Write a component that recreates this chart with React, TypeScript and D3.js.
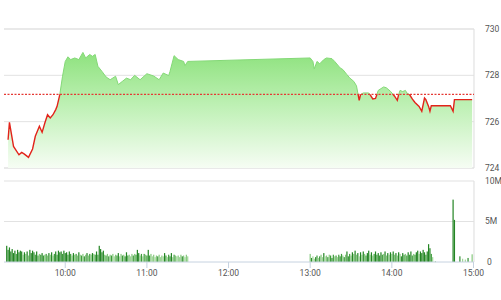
import React from "react";
import * as d3 from "d3";

const priceTimes = [
  "09:18","09:19","09:22","09:26","09:28","09:30","09:33","09:36","09:38","09:41",
  "09:43","09:45","09:47","09:49","09:51","09:53","09:54","09:56","09:58","10:00",
  "10:02","10:04","10:07","10:10","10:13","10:15","10:18","10:20","10:22","10:24",
  "10:27","10:30","10:33","10:37","10:39","10:42","10:45","10:48","10:51","10:55",
  "11:00","11:05","11:09","11:12","11:16","11:17","11:20","11:23","11:27","11:28",
  "11:30","13:00","13:02","13:03","13:05","13:07","13:10","13:12","13:16","13:18",
  "13:22","13:24","13:27","13:29","13:32","13:34","13:35","13:36","13:37","13:39",
  "13:43","13:44","13:46","13:48","13:49","13:50","13:54","13:56","13:59","14:01",
  "14:02","14:04","14:05","14:06","14:08","14:10","14:11","14:13","14:15","14:17",
  "14:20","14:22","14:24","14:25","14:27","14:28","14:29","14:43","14:45","14:46",
  "14:59"
];
const priceValues = [
  725.22,725.97,724.93,724.57,724.67,724.60,724.46,724.82,725.37,725.80,
  725.54,725.94,726.30,726.16,726.30,726.52,726.66,727.17,727.96,728.60,
  728.80,728.68,728.75,728.68,728.99,728.75,728.90,728.82,728.90,728.39,
  728.17,727.93,727.81,727.96,727.60,727.74,727.88,727.81,728.00,727.81,
  728.07,727.97,727.81,728.10,727.99,728.17,728.85,728.68,728.60,728.42,
  728.60,728.75,728.60,728.28,728.60,728.50,728.68,728.75,728.72,728.60,
  728.32,728.25,728.03,727.89,727.74,727.55,727.24,726.92,727.17,727.24,
  727.24,727.17,726.98,727.00,727.17,727.35,727.50,727.46,727.31,727.17,
  727.10,726.92,727.17,727.35,727.30,727.35,727.24,727.17,726.98,726.83,
  726.66,726.45,727.02,726.95,726.66,726.45,726.69,726.69,726.45,726.95,
  726.95
];
const referencePrice = 727.18;
const priceTicks = [724, 726, 728, 730];
const volumeTicks = [0, 5, 10];
const volumeTickLabels = ["0", "5M", "10M"];
const timeTickLabels = ["10:00", "11:00", "12:00", "13:00", "14:00", "15:00"];

const morningVolStart = "09:17";
const morningVolumes = [
  2.0,1.5,1.8,1.3,1.6,1.1,1.4,1.0,1.5,1.2,
  1.4,1.3,0.9,1.2,1.0,1.3,0.8,1.5,1.1,1.4,
  1.2,0.9,1.3,0.8,1.0,0.9,1.1,0.8,0.9,1.0,
  0.8,1.1,0.9,1.2,0.8,1.0,1.3,0.9,1.4,1.2,
  1.3,1.0,1.4,1.1,1.2,0.9,1.3,1.0,0.8,1.1,
  0.9,1.0,0.8,1.2,0.9,0.8,1.0,0.7,0.9,1.1,
  0.8,1.0,0.9,1.1,1.0,0.9,1.3,0.9,2.0,1.6,
  1.2,1.4,0.9,0.8,1.0,0.7,0.9,0.8,1.0,0.7,
  0.9,0.8,1.1,0.7,1.0,0.8,0.9,0.7,1.2,0.8,
  0.9,0.7,1.0,0.8,1.0,0.9,1.5,1.1,0.8,1.0,
  0.7,1.0,0.9,0.8,1.5,0.8,1.0,0.7,0.9,0.6,
  0.8,0.7,0.9,0.6,0.8,0.7,1.1,0.8,0.6,0.9,
  0.7,1.1,0.6,0.9,0.8,0.7,0.8,0.6,0.9,0.7,
  0.8,0.6,0.9,0.7
];
const afternoonVolStart = "13:00";
const afternoonVolumes = [
  1.0,0.5,0.7,0.4,0.6,0.8,0.5,0.7,0.9,0.6,
  1.1,0.7,0.8,0.6,0.9,0.8,0.5,0.9,0.7,0.8,
  0.6,0.9,0.7,1.0,0.8,0.6,0.9,1.3,0.7,1.0,
  0.8,1.2,1.0,1.4,0.9,1.1,0.7,1.2,0.9,1.3,
  1.0,0.8,1.1,1.4,0.9,1.2,0.8,1.0,1.3,0.9,
  1.1,0.8,1.2,0.9,1.0,1.3,0.8,1.1,0.9,1.2,
  1.0,1.3,0.9,1.1,0.8,1.2,1.0,0.7,1.1,0.9,
  1.0,0.8,1.2,0.9,1.3,0.8,1.0,0.9,1.2,1.4,
  1.0,1.3,1.1,1.5,1.2,0.9,1.3,2.2,1.7,1.0,
  0.6
];
const closingVolTimes = ["14:32","14:45","14:46","14:50","14:52","14:54","14:56","14:59"];
const closingVolumes = [0.05, 7.7, 5.2, 0.7, 0.4, 0.3, 0.5, 0.95];

const parse = d3.timeParse("%H:%M");

export default function App() {
  const W = 501, H = 300;
  const xLeft = 4, xRight = 474;
  const x = d3.scaleTime()
    .domain([parse("09:15") as Date, parse("15:00") as Date])
    .range([xLeft, 473.5]);
  const y = d3.scaleLinear().domain([724, 730]).range([168, 29]);
  const yv = d3.scaleLinear().domain([0, 10]).range([262, 181]);

  const pts = priceTimes.map((t, i) => ({ t: parse(t) as Date, v: priceValues[i] }));
  const line = d3.line<{ t: Date; v: number }>().x(d => x(d.t)).y(d => y(d.v));
  const area = d3.area<{ t: Date; v: number }>().x(d => x(d.t)).y0(y(724)).y1(d => y(d.v));
  const refY = y(referencePrice);

  const bars: { t: Date; v: number }[] = [];
  const m0 = parse(morningVolStart) as Date;
  morningVolumes.forEach((v, i) => bars.push({ t: d3.timeMinute.offset(m0, i), v }));
  const a0 = parse(afternoonVolStart) as Date;
  afternoonVolumes.forEach((v, i) => bars.push({ t: d3.timeMinute.offset(a0, i), v }));
  closingVolTimes.forEach((t, i) => bars.push({ t: parse(t) as Date, v: closingVolumes[i] }));

  const barColor = (v: number, i: number) =>
    v >= 1.1 ? "#238523" : v >= 0.8 ? (i % 2 ? "#3d9c3a" : "#86c97e") : (i % 3 ? "#9fd597" : "#2f8f2f");

  const gridColor = "#e2e2e2";
  const font = "Roboto, Arial, sans-serif";
  const labelColor = "#555";

  return (
    <svg width={W} height={H} style={{ position: "absolute", left: 0, top: 0 }}
      xmlns="http://www.w3.org/2000/svg">
      <defs>
        <linearGradient id="fillGrad" gradientUnits="userSpaceOnUse" x1="0" y1={y(729)} x2="0" y2={y(724)}>
          <stop offset="0" stopColor="#8ee27e" />
          <stop offset="0.45" stopColor="#bdf0b3" />
          <stop offset="1" stopColor="#f6fdf4" />
        </linearGradient>
        <clipPath id="above"><rect x={0} y={0} width={W} height={refY} /></clipPath>
        <clipPath id="below"><rect x={0} y={refY} width={W} height={H - refY} /></clipPath>
      </defs>

      {priceTicks.map(t => (
        <line key={t} x1={xLeft} x2={xRight} y1={y(t)} y2={y(t)} stroke={gridColor}
          strokeWidth={t === 724 || t === 730 ? 1.5 : 1} />
      ))}
      <line x1={xRight} x2={xRight} y1={y(730)} y2={y(724)} stroke={gridColor} strokeWidth={1.2} />

      <path d={area(pts) || ""} fill="url(#fillGrad)" />
      <path d={line(pts) || ""} fill="none" stroke="#84d877" strokeWidth={1} clipPath="url(#above)" />
      <path d={line(pts) || ""} fill="none" stroke="#e2231a" strokeWidth={1.4} clipPath="url(#below)" />
      <line x1={xLeft} x2={xRight} y1={refY} y2={refY} stroke="#e53935" strokeWidth={1.2} strokeDasharray="2,1.5" />

      {priceTicks.map(t => (
        <text key={t} x={485} y={y(t)} dy="0.35em" fontSize={8.5} fill={labelColor} fontFamily={font}>{t}</text>
      ))}

      <line x1={xLeft} x2={xRight} y1={yv(10)} y2={yv(10)} stroke={gridColor} strokeWidth={1.2} />
      <line x1={xLeft} x2={xRight} y1={yv(5)} y2={yv(5)} stroke={gridColor} strokeWidth={1} />
      <line x1={xRight} x2={xRight} y1={yv(10)} y2={yv(0)} stroke={gridColor} strokeWidth={1.2} />
      {bars.map((b, i) => (
        <rect key={i} x={x(b.t) - 0.6} y={yv(b.v)} width={1.2} height={Math.max(0.5, yv(0) - yv(b.v))}
          fill={barColor(b.v, i)} />
      ))}
      <line x1={xLeft} x2={xRight} y1={yv(0)} y2={yv(0)} stroke="#c6d2e0" strokeWidth={1} />
      {timeTickLabels.map(l => {
        const tx = x(parse(l) as Date);
        return (
          <g key={l}>
            <line x1={tx} x2={tx} y1={yv(0)} y2={yv(0) + 6} stroke="#c6d2e0" strokeWidth={1} />
            <text x={tx} y={273} dy="0.35em" textAnchor="middle" fontSize={8.5} fill={labelColor} fontFamily={font}>{l}</text>
          </g>
        );
      })}
      {volumeTicks.map((t, i) => (
        <text key={t} x={i === 0 ? 487 : 485} y={yv(t)} dy="0.35em" fontSize={8.5} fill={labelColor} fontFamily={font}>
          {volumeTickLabels[i]}
        </text>
      ))}
    </svg>
  );
}
